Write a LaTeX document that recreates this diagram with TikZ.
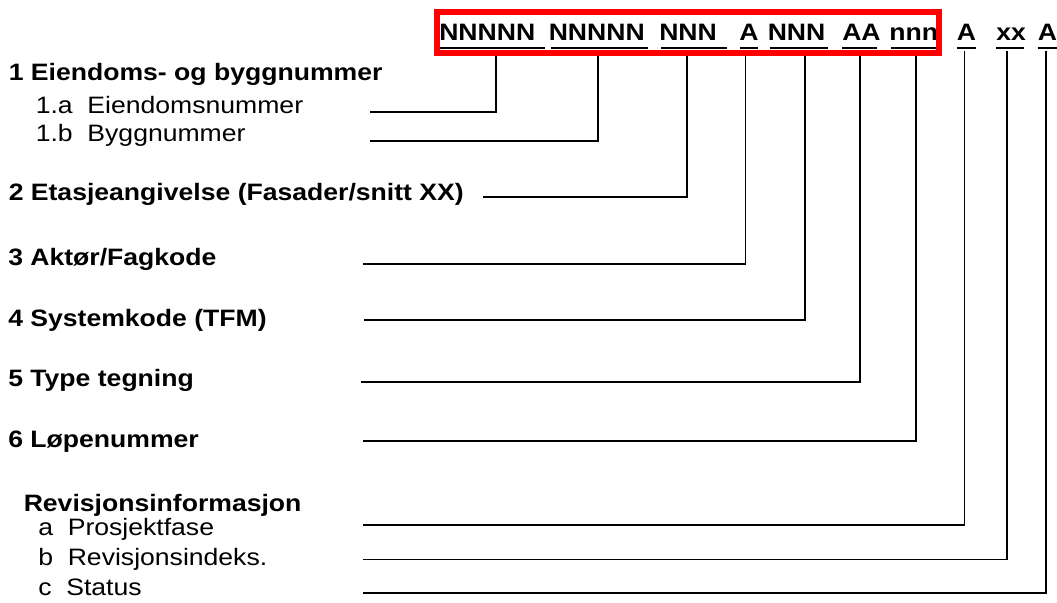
\documentclass[tikz,border=0pt]{standalone}
\usepackage{fontspec}
\setmainfont{Liberation Sans}
\usetikzlibrary{calc}
\newcommand{\sx}[1]{\scalebox{1.12}[1]{#1}}
\begin{document}
\begin{tikzpicture}[x=0.75pt,y=-0.75pt,
  lbl/.style={anchor=base west,inner sep=0pt,font=\fontsize{17.8}{20}\selectfont},
  blbl/.style={anchor=base west,inner sep=0pt,font=\fontsize{17.8}{20}\selectfont\bfseries},
  tok/.style={blbl},
  conn/.style={line width=1.4pt,black},
  ul/.style={line width=1.5pt,black},
  redbox/.style={draw=red,line width=4.3pt}]
\useasboundingbox (0,0) rectangle (1057,603);

% code tokens
\node[tok] (t1) at (439,40) {\sx{NNNNN}};
\node[tok] (t2) at (548.5,40) {\sx{NNNNN}};
\node[tok] (t3) at (659,40) {\sx{NNN}};
\node[tok] (t4) at (739,40) {\sx{A}};
\node[tok] (t5) at (767.5,40) {\sx{NNN}};
\node[tok] (t6) at (842,40) {\sx{AA}};
\node[tok] (t7) at (889,40) {\sx{nnn}};
\node[tok] (t8) at (956.5,40) {\sx{A}};
\node[tok] (t9) at (996,40) {\sx{xx}};
\node[tok] (t10) at (1037.5,40) {\sx{A}};

% underlines
\draw[ul] (t1.base west) ++(1,7.7) -- ++(104.5,0);
\draw[ul] (t2.base west) ++(2,7.7) -- ++(97.5,0);
\draw[ul] (t3.base west) ++(2,7.7) -- ++(65.5,0);
\draw[ul] (t4.base west) ++(0.5,7.7) -- ++(18,0);
\draw[ul] (t5.base west) ++(2,7.7) -- ++(58.5,0);
\draw[ul] (t6.base west) ++(0,7.7) -- ++(35,0);
\draw[ul] (t7.base west) ++(2.4,7.7) -- ++(47,0);
\draw[ul] (t8.base west) ++(0,7.7) -- ++(19.5,0);
\draw[ul] (t9.base west) ++(0,7.7) -- ++(28,0);
\draw[ul] (t10.base west) ++(0,7.7) -- ++(19,0);

% labels
\node[blbl] (l1) at (8.5,80.7) {\sx{1 Eiendoms- og byggnummer}};
\node[lbl] (l1a) at (35.5,113.3) {\sx{1.a~~Eiendomsnummer}};
\node[lbl] (l1b) at (35.5,141.7) {\sx{1.b~~Byggnummer}};
\node[blbl] (l2) at (8.5,200) {\sx{2 Etasjeangivelse (Fasader/snitt XX)}};
\node[blbl] (l3) at (8,265) {\sx{3 Aktør/Fagkode}};
\node[blbl] (l4) at (8,326.7) {\sx{4 Systemkode (TFM)}};
\node[blbl] (l5) at (8,386.7) {\sx{5 Type tegning}};
\node[blbl] (l6) at (8,447.7) {\sx{6 Løpenummer}};
\node[blbl] (lr) at (23.5,511.7) {\sx{Revisjonsinformasjon}};
\node[lbl] (la) at (38,535) {\sx{a~~Prosjektfase}};
\node[lbl] (lb) at (38,565) {\sx{b~~Revisjonsindeks.}};
\node[lbl] (lc) at (38,595) {\sx{c~~Status}};

% connector ends
\coordinate (v1) at (495.7,51);
\coordinate (v2) at (597.7,51);
\coordinate (v3) at (686.7,51);
\coordinate (v4) at (745.5,51);
\coordinate (v5) at (805.3,51);
\coordinate (v6) at (860,51);
\coordinate (v7) at (916,51);
\coordinate (v8) at (964.5,51);
\coordinate (v9) at (1006.8,51);
\coordinate (v10) at (1046,51);

\coordinate (s1) at (370,111.7);
\coordinate (s2) at (370,141);
\coordinate (s3) at (483.3,196.7);
\coordinate (s4) at (362.7,264.3);
\coordinate (s5) at (364,320);
\coordinate (s6) at (360.7,381.7);
\coordinate (s7) at (362.7,441);
\coordinate (s8) at (362.7,525);
\coordinate (s9) at (362.7,559.5);
\coordinate (s10) at (362.7,593.3);

\foreach \i in {1,...,10}{\draw[conn] (v\i) |- (s\i);}

% red frame
\draw[redbox] (437,12.2) rectangle (939,53.2);
\end{tikzpicture}
\end{document}
